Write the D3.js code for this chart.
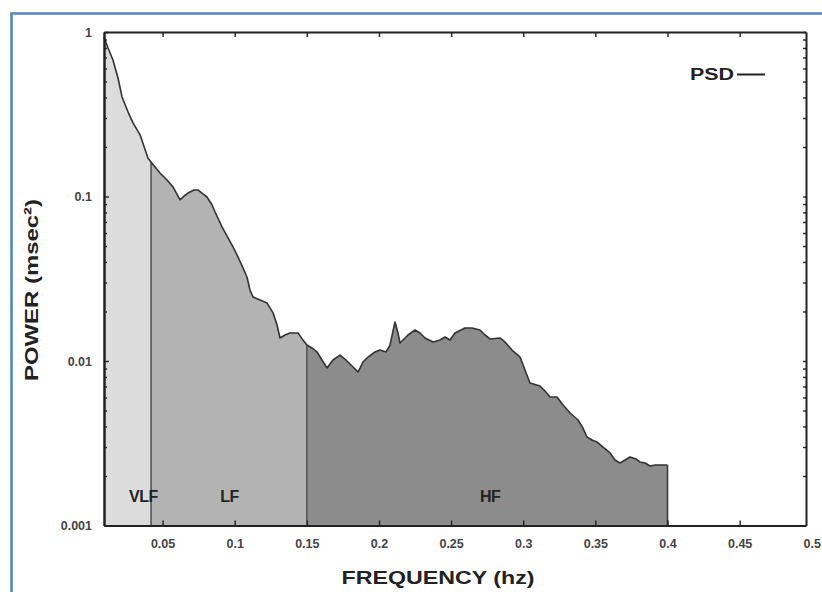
<!DOCTYPE html>
<html>
<head>
<meta charset="utf-8">
<script src="https://cdn.jsdelivr.net/npm/d3@7"></script>
<style>
  html, body { margin: 0; padding: 0; background: #fff; }
  svg { display: block; font-family: "Liberation Sans", Arial, sans-serif; }
</style>
</head>
<body>
<svg id="chart" width="822" height="592"></svg>
<script>
// Power spectral density of heart-rate variability (log power vs frequency)
const freq = [
  0.0094, 0.0122, 0.0156, 0.0191, 0.0219, 0.0261, 0.0295, 0.0344, 0.0399, 0.0420,
  0.0482, 0.0531, 0.0573, 0.0621, 0.0649, 0.0676, 0.0718, 0.0745, 0.0780, 0.0808,
  0.0843, 0.0864, 0.0912, 0.0954, 0.0989, 0.1023, 0.1058, 0.1085, 0.1106, 0.1127,
  0.1176, 0.1224, 0.1266, 0.1293, 0.1314, 0.1349, 0.1383, 0.1439, 0.1473, 0.1500,
  0.1536, 0.1571, 0.1605, 0.1640, 0.1681, 0.1730, 0.1771, 0.1813, 0.1855, 0.1889,
  0.1924, 0.1972, 0.2007, 0.2049, 0.2076, 0.2111, 0.2132, 0.2146, 0.2201, 0.2250,
  0.2284, 0.2319, 0.2375, 0.2423, 0.2458, 0.2492, 0.2527, 0.2596, 0.2645, 0.2700,
  0.2735, 0.2770, 0.2839, 0.2873, 0.2922, 0.2978, 0.3012, 0.3047, 0.3116, 0.3151,
  0.3186, 0.3234, 0.3276, 0.3325, 0.3380, 0.3414, 0.3442, 0.3477, 0.3511, 0.3553,
  0.3602, 0.3636, 0.3671, 0.3706, 0.3740, 0.3782, 0.3810, 0.3844, 0.3879, 0.3914,
  0.3948, 0.4000
];
const power = [
  0.93, 0.80, 0.676, 0.525, 0.403, 0.326, 0.280, 0.237, 0.171, 0.162,
  0.139, 0.126, 0.114, 0.0953, 0.1007, 0.105, 0.1096, 0.1096, 0.1036, 0.0993,
  0.0888, 0.0805, 0.0653, 0.056, 0.0493, 0.0429, 0.0367, 0.0324, 0.0270, 0.0245,
  0.0235, 0.0225, 0.0196, 0.0166, 0.0138, 0.0144, 0.0148, 0.0148, 0.0134, 0.0125,
  0.0120, 0.01134, 0.01014, 0.00906, 0.01014, 0.01087, 0.01014, 0.00933, 0.00857, 0.00986,
  0.01057, 0.01134, 0.01166, 0.01134, 0.0125, 0.01726, 0.01479, 0.01286, 0.01439, 0.01543,
  0.01479, 0.0138, 0.01305, 0.01342, 0.0140, 0.01342, 0.01479, 0.01588, 0.01588, 0.01543,
  0.01439, 0.01361, 0.0138, 0.01305, 0.01166, 0.01057, 0.00882, 0.00735, 0.00705, 0.00657,
  0.00604, 0.00604, 0.0054, 0.00483, 0.00438, 0.00391, 0.00345, 0.00331, 0.00322, 0.0030,
  0.00276, 0.0025, 0.0024, 0.0025, 0.00261, 0.00254, 0.00243, 0.0024, 0.0023, 0.00233,
  0.00233, 0.00233
];

// Frequency bands: edges and names
const bandEdges = [0.0094, 0.042, 0.15, 0.4];
const bandNames = ["VLF", "LF", "HF"];
const bandFills = ["#dcdcdc", "#b3b3b3", "#8c8c8c"];

// Axis ticks
const xTicks = [0.05, 0.1, 0.15, 0.2, 0.25, 0.3, 0.35, 0.4, 0.45, 0.5];
const xTickLabels = ["0.05", "0.1", "0.15", "0.2", "0.25", "0.3", "0.35", "0.4", "0.45", "0.5"];
const yTicks = [0.001, 0.01, 0.1, 1];
const yTickLabels = ["0.001", "0.01", "0.1", "1"];

const svg = d3.select("#chart");

// Page frame
svg.append("path")
  .attr("d", "M11.5,600 V13.5 H830")
  .attr("fill", "none")
  .attr("stroke", "#5584c4")
  .attr("stroke-width", 2.6);

const x = d3.scaleLinear().domain([0.0094, 0.496]).range([104, 806]);
const y = d3.scaleLog().domain([0.001, 1]).range([525.5, 32]);

const pts = freq.map((f, i) => ({ f, v: power[i] }));

const area = d3.area()
  .x(d => x(d.f))
  .y0(y(0.001))
  .y1(d => y(d.v));

// Filled band areas
bandNames.forEach((name, i) => {
  const lo = bandEdges[i], hi = bandEdges[i + 1];
  const seg = pts.filter(d => d.f >= lo - 1e-9 && d.f <= hi + 1e-9);
  svg.append("path")
    .datum(seg)
    .attr("d", area)
    .attr("fill", bandFills[i])
    .attr("stroke", "none");
});

// Band dividers
bandEdges.slice(1).forEach((e, i) => {
  const v = pts.find(d => Math.abs(d.f - e) < 1e-9).v;
  svg.append("line")
    .attr("x1", x(e)).attr("x2", x(e))
    .attr("y1", y(v)).attr("y2", y(0.001))
    .attr("stroke", i === 2 ? "#3a3a3a" : "#555")
    .attr("stroke-width", 1.6);
});

// Spectrum outline
svg.append("path")
  .datum(pts)
  .attr("d", d3.line().x(d => x(d.f)).y(d => y(d.v)))
  .attr("fill", "none")
  .attr("stroke", "#333")
  .attr("stroke-width", 1.6)
  .attr("stroke-linejoin", "round");

// Minor log ticks
const minor = [];
[0.001, 0.01, 0.1].forEach(b => { for (let k = 2; k <= 9; k++) minor.push(b * k); });

function styleAxis(g) {
  g.select(".domain").attr("stroke", "#222").attr("stroke-width", 2);
  g.selectAll(".tick line").attr("stroke", "#222").attr("stroke-width", 1.4);
  g.selectAll(".tick text")
    .attr("fill", "#444")
    .attr("font-size", 12.5)
    .attr("font-weight", "bold");
}

// Bottom axis
const gx = svg.append("g")
  .attr("transform", `translate(0,${y(0.001)})`)
  .call(d3.axisBottom(x).tickValues(xTicks)
    .tickFormat((d, i) => xTickLabels[i])
    .tickSizeInner(-5).tickSizeOuter(0).tickPadding(14));
styleAxis(gx);
gx.selectAll(".tick").filter(d => d > x.domain()[1]).select("line").remove();

// Top axis
const gt = svg.append("g")
  .attr("transform", `translate(0,${y(1)})`)
  .call(d3.axisTop(x).tickValues(xTicks.filter(d => d <= x.domain()[1]))
    .tickFormat("").tickSizeInner(-5).tickSizeOuter(0));
styleAxis(gt);

// Left axis
const gy = svg.append("g")
  .attr("transform", `translate(${x.range()[0]},0)`)
  .call(d3.axisLeft(y).tickValues(yTicks)
    .tickFormat((d, i) => yTickLabels[i])
    .tickSizeInner(-5).tickSizeOuter(0).tickPadding(12));
styleAxis(gy);

const gyMinor = svg.append("g")
  .attr("transform", `translate(${x.range()[0]},0)`)
  .call(d3.axisLeft(y).tickValues(minor).tickFormat("")
    .tickSizeInner(-3).tickSizeOuter(0));
styleAxis(gyMinor);

// Right axis
const gr = svg.append("g")
  .attr("transform", `translate(${x.range()[1]},0)`)
  .call(d3.axisRight(y).tickValues(yTicks.concat(minor)).tickFormat("")
    .tickSizeInner(-3).tickSizeOuter(0));
styleAxis(gr);

// Band labels
const bandLabelAt = [0.0367, 0.0964, 0.277];
bandNames.forEach((name, i) => {
  svg.append("text")
    .attr("x", x(bandLabelAt[i]))
    .attr("y", 502)
    .attr("text-anchor", "middle")
    .attr("font-size", 16)
    .attr("font-weight", "bold")
    .attr("fill", "#222")
    .attr("letter-spacing", -0.5)
    .text(name);
});

// Legend
svg.append("text")
  .attr("x", 690).attr("y", 80)
  .attr("font-size", 16).attr("font-weight", "bold").attr("fill", "#222")
  .attr("textLength", 44).attr("lengthAdjust", "spacingAndGlyphs")
  .text("PSD");
svg.append("line")
  .attr("x1", 737).attr("x2", 765).attr("y1", 74.5).attr("y2", 74.5)
  .attr("stroke", "#222").attr("stroke-width", 2);

// Axis titles
svg.append("text")
  .attr("x", 438).attr("y", 584)
  .attr("text-anchor", "middle")
  .attr("font-size", 19).attr("font-weight", "bold").attr("fill", "#222")
  .attr("textLength", 193).attr("lengthAdjust", "spacingAndGlyphs")
  .text("FREQUENCY (hz)");

svg.append("text")
  .attr("transform", "translate(38,290) rotate(-90)")
  .attr("text-anchor", "middle")
  .attr("font-size", 19).attr("font-weight", "bold").attr("fill", "#222")
  .attr("textLength", 182).attr("lengthAdjust", "spacingAndGlyphs")
  .text("POWER (msec²)");
</script>
</body>
</html>
